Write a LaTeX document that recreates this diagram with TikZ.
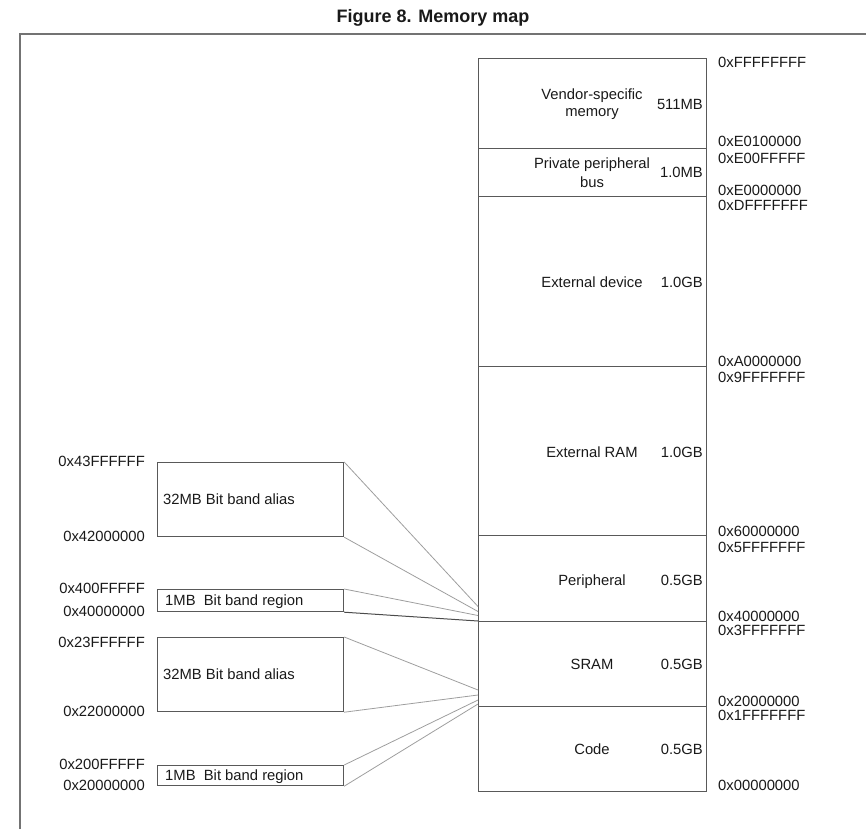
\documentclass[tikz,border=0pt]{standalone}
\usepackage{fontspec}
\setmainfont{Liberation Sans}
\begin{document}
\begin{tikzpicture}[x=1pt,y=-1pt,
  every node/.style={font=\fontsize{14.8}{17}\selectfont, text=black!90},
  mapbox/.style={draw=black!65, line width=1.3pt, rectangle, inner sep=0pt, minimum width=228pt, anchor=north west},
  bandbox/.style={draw=black!65, line width=1.2pt, rectangle, inner sep=0pt, minimum width=186pt, anchor=north west},
  addr/.style={anchor=base west, inner sep=0pt},
  laddr/.style={anchor=base east, inner sep=0pt},
  blabel/.style={anchor=base west, inner sep=0pt},
  region/.style={anchor=base, inner sep=0pt, align=center},
  size/.style={anchor=base east, inner sep=0pt},
  link/.style={draw=black!38, line width=0.8pt},
  linkdark/.style={draw=black!70, line width=1pt},
  frame/.style={draw=black!55, line width=1.6pt}]
\useasboundingbox (0,0) rectangle (866,829);
% title
\node[anchor=base, inner sep=0pt, font=\fontsize{18}{20}\selectfont\bfseries] (title) at (433,22.5) {Figure 8. Memory map};
% frame
\coordinate (fbl) at (20,829);
\coordinate (ftl) at (20,34);
\coordinate (ftr) at (866,34);
\draw[frame] (fbl) -- (ftl) -- (ftr);
% memory map column
\node[mapbox, minimum height=90pt] (vendor) at (478,58) {};
\node[mapbox, minimum height=48pt] (ppb) at (478,148) {};
\node[mapbox, minimum height=170pt] (extdev) at (478,196) {};
\node[mapbox, minimum height=169pt] (extram) at (478,366) {};
\node[mapbox, minimum height=86pt] (periph) at (478,535) {};
\node[mapbox, minimum height=85pt] (sram) at (478,621) {};
\node[mapbox, minimum height=85pt] (code) at (478,706) {};
% region labels
\node[region] (tvendor) at (592,117) {Vendor-specific\\[0pt]memory};
\node[size] (svendor) at (703,110) {511MB};
\node[region] (tppb) at (592,187) {Private peripheral\\[2pt]bus};
\node[size] (sppb) at (703,177.5) {1.0MB};
\node[region] (textdev) at (592,287) {External device};
\node[size] (sextdev) at (703,287) {1.0GB};
\node[region] (textram) at (592,457) {External RAM};
\node[size] (sextram) at (703,457) {1.0GB};
\node[region] (tperiph) at (592,585) {Peripheral};
\node[size] (speriph) at (703,585) {0.5GB};
\node[region] (tsram) at (592,669) {SRAM};
\node[size] (ssram) at (703,669) {0.5GB};
\node[region] (tcode) at (592,754) {Code};
\node[size] (scode) at (703,754) {0.5GB};
% right addresses
\node[addr] (a1) at (718,68) {0xFFFFFFFF};
\node[addr] (a2) at (718,147) {0xE0100000};
\node[addr] (a3) at (718,163.5) {0xE00FFFFF};
\node[addr] (a4) at (718,195) {0xE0000000};
\node[addr] (a5) at (718,210) {0xDFFFFFFF};
\node[addr] (a6) at (718,366) {0xA0000000};
\node[addr] (a7) at (718,382) {0x9FFFFFFF};
\node[addr] (a8) at (718,536) {0x60000000};
\node[addr] (a9) at (718,552) {0x5FFFFFFF};
\node[addr] (a10) at (718,621) {0x40000000};
\node[addr] (a11) at (718,635) {0x3FFFFFFF};
\node[addr] (a12) at (718,706) {0x20000000};
\node[addr] (a13) at (718,720.5) {0x1FFFFFFF};
\node[addr] (a14) at (718,790) {0x00000000};
% bit band boxes
\node[bandbox, minimum height=74pt] (alias4) at (157,462) {};
\node[bandbox, minimum height=22pt] (reg4) at (157,589) {};
\node[bandbox, minimum height=74pt] (alias2) at (157,637) {};
\node[bandbox, minimum height=20pt] (reg2) at (157,765) {};
\node[blabel] (talias4) at (163,504) {32MB Bit band alias};
\node[blabel] (treg4) at (165,605) {1MB\ \ Bit band region};
\node[blabel] (talias2) at (163,679) {32MB Bit band alias};
\node[blabel] (treg2) at (165,780) {1MB\ \ Bit band region};
% left addresses
\node[laddr] (l1) at (145,466) {0x43FFFFFF};
\node[laddr] (l2) at (145,541) {0x42000000};
\node[laddr] (l3) at (145,593) {0x400FFFFF};
\node[laddr] (l4) at (145,616) {0x40000000};
\node[laddr] (l5) at (145,647) {0x23FFFFFF};
\node[laddr] (l6) at (145,716) {0x22000000};
\node[laddr] (l7) at (145,769) {0x200FFFFF};
\node[laddr] (l8) at (145,790) {0x20000000};
% connector targets on the map
\coordinate (p1) at (478,606.5);
\coordinate (p2) at (478,611.5);
\coordinate (p3) at (478,615.5);
\coordinate (p4) at (478,621);
\coordinate (s1) at (478,690);
\coordinate (s2) at (478,695);
\coordinate (s3) at (478,700);
\coordinate (s4) at (478,704);
% connectors
\draw[link] (alias4.north east) -- (p1);
\draw[link] (alias4.south east) -- (p2);
\draw[link] (reg4.north east) -- (p3);
\draw[linkdark] (reg4.south east) -- (p4);
\draw[link] (alias2.north east) -- (s1);
\draw[link] (alias2.south east) -- (s2);
\draw[link] (reg2.north east) -- (s3);
\draw[link] (reg2.south east) -- (s4);
\end{tikzpicture}
\end{document}
